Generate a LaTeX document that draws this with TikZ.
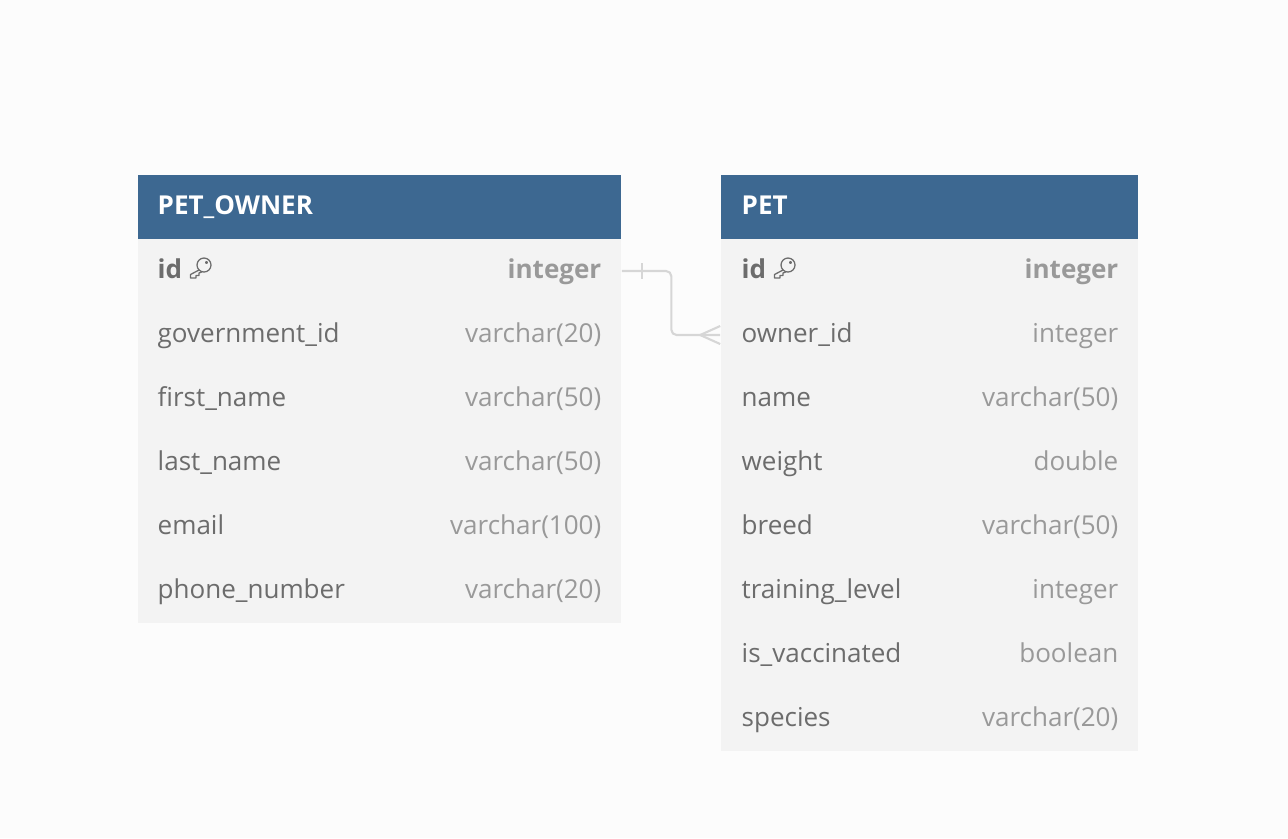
\documentclass[tikz,border=0pt]{standalone}
\usepackage{xcolor}
\usepackage{fontspec}
\setmainfont{Open Sans}
\usetikzlibrary{positioning, calc}

\definecolor{pagebg}{HTML}{FCFCFC}
\definecolor{headblue}{HTML}{3D6891}
\definecolor{rowgray}{HTML}{F3F3F3}
\definecolor{namegray}{HTML}{6C6C6C}
\definecolor{typegray}{HTML}{999999}
\definecolor{linkgray}{HTML}{D6D6D6}

\tikzset{
  headbox/.style={fill=headblue, draw=none, inner sep=0pt, minimum height=0.64cm},
  rowbox/.style={fill=rowgray, draw=none, inner sep=0pt, minimum height=0.642cm},
  headtext/.style={anchor=base west, inner sep=0pt, text=white, font=\fontsize{7.4pt}{9pt}\bfseries},
  colname/.style={anchor=base west, inner sep=0pt, text=namegray, font=\fontsize{7.4pt}{9pt}\selectfont},
  coltype/.style={anchor=base east, inner sep=0pt, text=typegray, font=\fontsize{7.4pt}{9pt}\selectfont},
  link/.style={draw=linkgray, line width=0.6pt}
}

% small key next to a primary key column
\newcommand{\keyicon}[1]{
  \begin{scope}[shift={#1}, draw=namegray, line width=0.36pt, line cap=round, line join=round]
    \draw (204,265) circle (7);
    \draw (206.5,262.5) circle (1);
    \draw (199,270) -- (190.5,274.5) -- (190.5,278) -- (196,278) -- (196,275.5) -- (199,275.5) -- (199,273) -- (202,271.8);
  \end{scope}
}

\begin{document}
\begin{tikzpicture}[x=0.01cm, y=-0.01cm]
  \useasboundingbox[fill=pagebg] (0,0) rectangle (1288,838);

  % PET_OWNER table
  \node[headbox, minimum width=4.83cm] (owner-head) at (379.5,207) {};
  \node[headtext] (owner-title) at (157,214) {PET\_OWNER};
  \foreach \i/\nm/\typ in {1/id/integer, 2/government\_id/varchar(20), 3/first\_name/varchar(50), 4/last\_name/varchar(50), 5/email/varchar(100), 6/phone\_number/varchar(20)} {
    \node[rowbox, minimum width=4.83cm] (owner-\i) at (379.5,{207+64*\i}) {};
    \ifnum\i>1
      \node[colname] (owner-name-\i) at (157,{214+64*\i}) {\nm};
      \node[coltype] (owner-type-\i) at (602,{214+64*\i}) {\typ};
    \else
      \node[colname, font=\fontsize{7.4pt}{9pt}\bfseries] (owner-name-\i) at (157,{214+64*\i}) {\nm};
      \node[coltype, font=\fontsize{7.4pt}{9pt}\bfseries] (owner-type-\i) at (602,{214+64*\i}) {\typ};
    \fi
  }
  \keyicon{(0,0)}

  % PET table
  \node[headbox, minimum width=4.17cm] (pet-head) at (929.5,207) {};
  \node[headtext] (pet-title) at (741,214) {PET};
  \foreach \i/\nm/\typ in {1/id/integer, 2/owner\_id/integer, 3/name/varchar(50), 4/weight/double, 5/breed/varchar(50), 6/training\_level/integer, 7/is\_vaccinated/boolean, 8/species/varchar(20)} {
    \node[rowbox, minimum width=4.17cm] (pet-\i) at (929.5,{207+64*\i}) {};
    \ifnum\i>1
      \node[colname] (pet-name-\i) at (741,{214+64*\i}) {\nm};
      \node[coltype] (pet-type-\i) at (1119,{214+64*\i}) {\typ};
    \else
      \node[colname, font=\fontsize{7.4pt}{9pt}\bfseries] (pet-name-\i) at (741,{214+64*\i}) {\nm};
      \node[coltype, font=\fontsize{7.4pt}{9pt}\bfseries] (pet-type-\i) at (1119,{214+64*\i}) {\typ};
    \fi
  }
  \keyicon{(584,0)}

  % one owner, many pets
  \draw[link, rounded corners=1.5pt] (owner-1.east) -- ++(49.5,0) |- (pet-2.west);
  \draw[link] ($(owner-1.east)+(20,-8)$) -- ($(owner-1.east)+(20,8)$);
  \draw[link] ($(pet-2.west)+(0,-9)$) -- ($(pet-2.west)+(-20,0)$) -- ($(pet-2.west)+(0,9)$);
\end{tikzpicture}
\end{document}
